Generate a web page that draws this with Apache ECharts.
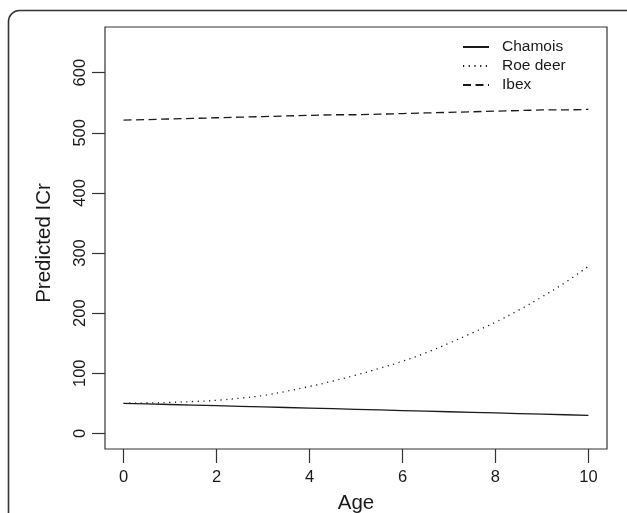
<!DOCTYPE html>
<html>
<head>
<meta charset="utf-8">
<script src="https://cdn.jsdelivr.net/npm/echarts@6/dist/echarts.min.js"></script>
<style>
html,body{margin:0;padding:0;background:#fff;}
#chart{width:627px;height:513px;}
</style>
</head>
<body>
<div id="chart"></div>
<script>
var ages = [0,0.5,1,1.5,2,2.5,3,3.5,4,4.5,5,5.5,6,6.5,7,7.5,8,8.5,9,9.5,10];
var chamois = [50,49,48,47,46,45,44,43,42,41,40,39,38,37,36,35,34,33,32,31,30];
var roeDeer = [50,50.5,51.5,53,55,58.5,63,70,78,87,97,108,120,134,150,167,185,205,227,251,278];
var ibex = [521,522,523,524,525,526,527,528,529,530,530,531,532,533,534,535,536,537,538,538,539];
var xTicks = [0,2,4,6,8,10];
var yTicks = [0,100,200,300,400,500,600];
var seriesNames = ['Chamois','Roe deer','Ibex'];

function pairs(ys){ return ages.map(function(a,i){ return [a, ys[i]]; }); }

var font = 'Liberation Sans, Arial, Helvetica, sans-serif';
var ink = '#1a1a1a';

var chart = echarts.init(document.getElementById('chart'), null, {renderer:'canvas'});
chart.setOption({
  animation:false,
  backgroundColor:'#fff',
  textStyle:{fontFamily:font},
  graphic:[{
    type:'rect', silent:true, z:-1,
    shape:{x:8.5, y:10.5, width:640, height:560, r:11},
    style:{fill:'none', stroke:'#333', lineWidth:1.6}
  }],
  grid:{left:105, right:20, top:27, bottom:64, show:true, borderColor:'#333', borderWidth:1.2,
        backgroundColor:'transparent', containLabel:false, outerBoundsMode:'none'},
  legend:{
    orient:'vertical', left:457, top:34,
    itemWidth:26, itemHeight:14, itemGap:3,
    data:seriesNames,
    itemStyle:{opacity:0},
    textStyle:{fontFamily:font, fontSize:15.5, color:ink, padding:[0,0,0,8]}
  },
  xAxis:{
    type:'value', min:-0.4, max:10.4,
    name:'Age', nameLocation:'middle', nameGap:44,
    nameTextStyle:{fontFamily:font, fontSize:20.5, color:ink},
    axisLine:{show:false, onZero:false},
    splitLine:{show:false},
    axisTick:{show:true, length:14, customValues:xTicks, lineStyle:{color:'#333', width:1.2}},
    axisLabel:{customValues:xTicks, margin:20, fontFamily:font, fontSize:16.5, color:ink}
  },
  yAxis:{
    type:'value', min:-26, max:676,
    name:'Predicted ICr', nameLocation:'middle', nameGap:50,
    nameTextStyle:{fontFamily:font, fontSize:20.5, color:ink, padding:[0,10,0,0]},
    axisLine:{show:false, onZero:false},
    splitLine:{show:false},
    axisTick:{show:true, length:13, customValues:yTicks, lineStyle:{color:'#333', width:1.2}},
    axisLabel:{customValues:yTicks, rotate:90, margin:16, fontFamily:font, fontSize:16.5, color:ink}
  },
  series:[
    {name:seriesNames[0], type:'line', data:pairs(chamois), symbol:'none', smooth:false,
     lineStyle:{color:ink, width:1.3, type:'solid'}, itemStyle:{color:ink}},
    {name:seriesNames[1], type:'line', data:pairs(roeDeer), symbol:'none', smooth:true,
     lineStyle:{color:ink, width:1.3, type:[1.2,4.5]}, itemStyle:{color:ink}},
    {name:seriesNames[2], type:'line', data:pairs(ibex), symbol:'none', smooth:false,
     lineStyle:{color:ink, width:1.3, type:[8,4.5]}, itemStyle:{color:ink}}
  ]
});
</script>
</body>
</html>
